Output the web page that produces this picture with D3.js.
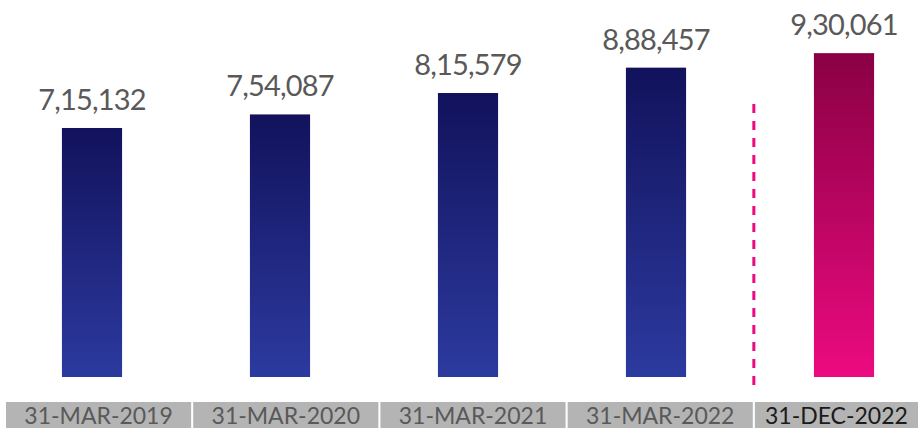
<!DOCTYPE html>
<html>
<head>
<meta charset="utf-8">
<script src="https://cdn.jsdelivr.net/npm/d3@7"></script>
<style>
  body { margin: 0; background: #fff; }
  svg { display: block; font-family: "Gill Sans", Lato, sans-serif; }
</style>
</head>
<body>
<div id="chart"></div>
<script>
const categories = ["31-MAR-2019", "31-MAR-2020", "31-MAR-2021", "31-MAR-2022", "31-DEC-2022"];
const values = [715132, 754087, 815579, 888457, 930061];
const valueLabels = ["7,15,132", "7,54,087", "8,15,579", "8,88,457", "9,30,061"];

const width = 918, height = 428;
const baseY = 377;

const svg = d3.select("#chart")
    .append("svg")
    .attr("width", width)
    .attr("height", height);

const defs = svg.append("defs");

function gradient(id, top, bottom) {
    const g = defs.append("linearGradient")
        .attr("id", id)
        .attr("x1", 0).attr("y1", 0)
        .attr("x2", 0).attr("y2", 1);
    g.append("stop").attr("offset", "0%").attr("stop-color", top);
    g.append("stop").attr("offset", "100%").attr("stop-color", bottom);
}
gradient("blue-grad", "#12125c", "#2c3a9f");
gradient("pink-grad", "#8a0044", "#ec0a80");

// bars
const x = d3.scaleBand()
    .domain(categories)
    .range([-2, 938])
    .paddingInner(0.68)
    .paddingOuter(0.34);

// bottom label boxes
const xBox = d3.scaleBand()
    .domain(categories)
    .range([6, 940])
    .paddingInner(0.011)
    .paddingOuter(0);

const y = d3.scaleLinear()
    .domain([0, 1082700])
    .range([baseY, 0]);

svg.selectAll(".bar")
    .data(categories)
    .enter()
    .append("rect")
    .attr("class", "bar")
    .attr("x", d => x(d))
    .attr("y", (d, i) => y(values[i]))
    .attr("width", x.bandwidth())
    .attr("height", (d, i) => y(0) - y(values[i]))
    .attr("fill", (d, i) => i === categories.length - 1 ? "url(#pink-grad)" : "url(#blue-grad)");

svg.selectAll(".value-label")
    .data(categories)
    .enter()
    .append("text")
    .attr("class", "value-label")
    .attr("x", d => x(d) + x.bandwidth() / 2)
    .attr("y", (d, i) => y(values[i]) - 18)
    .attr("text-anchor", "middle")
    .attr("fill", "#595959")
    .attr("font-size", "29px")
    .attr("letter-spacing", "-0.8")
    .text((d, i) => valueLabels[i]);

// label boxes
const boxes = svg.selectAll(".box")
    .data(categories)
    .enter()
    .append("g")
    .attr("class", "box")
    .attr("transform", d => `translate(${xBox(d)},402)`);

boxes.append("rect")
    .attr("width", xBox.bandwidth())
    .attr("height", 26)
    .attr("fill", "#b4b4b4");

boxes.append("text")
    .attr("x", (d, i) => i === categories.length - 1 ? (918 - xBox(d)) / 2 : xBox.bandwidth() / 2)
    .attr("y", 22)
    .attr("text-anchor", "middle")
    .attr("font-size", "23px")
    .attr("fill", (d, i) => i === categories.length - 1 ? "#1a1a1a" : "#595959")
    .text(d => d);

// dashed separator
const sepX = xBox(categories[4]) - 1;
svg.append("line")
    .attr("x1", sepX).attr("x2", sepX)
    .attr("y1", 104).attr("y2", 392)
    .attr("stroke", "#ec0a80")
    .attr("stroke-width", 3)
    .attr("stroke-dasharray", "9,8");
</script>
</body>
</html>
